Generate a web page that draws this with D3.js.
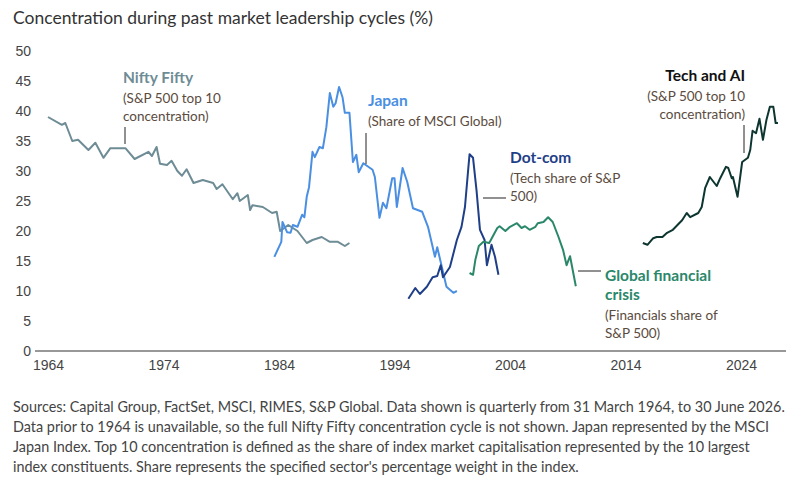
<!DOCTYPE html>
<html>
<head>
<meta charset="utf-8">
<script src="https://cdn.jsdelivr.net/npm/d3@7"></script>
<style>
  body { margin: 0; background: #fff; font-family: Lato, "Open Sans", sans-serif; }
  .tick text { font-size: 14px; fill: #444; }
  .note { font-size: 14.4px; fill: #444; }
</style>
</head>
<body>
<svg id="chart" width="793" height="491"></svg>
<script>
// [year, % concentration]
var niftyFifty = [[1964.0,39],[1965.2,37.7],[1965.5,38],[1966.1,35],[1966.6,35.2],[1967.5,33.5],[1968.1,34.7],[1968.8,32.2],[1969.4,33.8],[1970.7,33.8],[1971.5,32],[1972.7,33.2],[1973.0,32.5],[1973.4,34],[1973.7,31.2],[1974.3,31],[1974.7,31.7],[1975.2,30],[1975.6,29.2],[1976.0,30.3],[1976.6,28],[1977.4,28.5],[1978.3,28],[1978.6,27],[1979.1,27.8],[1980.0,25.3],[1980.4,26.3],[1980.6,25],[1981.3,26],[1981.5,23.5],[1981.7,24.3],[1982.6,24],[1983.4,23],[1983.8,23.2],[1984.1,20],[1984.8,21],[1985.6,20],[1986.4,18],[1986.9,18.5],[1987.7,19],[1988.4,18.2],[1989.1,18.2],[1989.7,17.5],[1990.1,18]];
var japan = [[1983.6,15.7],[1984.2,18.2],[1984.3,21.5],[1984.7,19.8],[1985.0,19.7],[1985.2,21],[1985.6,20.7],[1986.0,22.7],[1986.2,22.3],[1986.4,25.7],[1986.6,27.3],[1986.9,33.2],[1987.1,32.3],[1987.5,34],[1987.8,33.8],[1988.1,37.3],[1988.4,43],[1988.7,40.7],[1988.9,41.3],[1989.2,44],[1989.5,42.3],[1989.7,39.7],[1990.1,39.7],[1990.4,31.5],[1990.7,32.7],[1990.9,29.8],[1991.3,31.3],[1992.1,30.2],[1992.3,29],[1992.7,22.2],[1993.0,24.7],[1993.3,23.8],[1993.8,28.8],[1994.0,28.8],[1994.2,24],[1994.7,30.5],[1995.1,28.2],[1995.6,23.8],[1996.4,23.2],[1996.9,20.7],[1997.5,15.7],[1997.7,17.3],[1998.1,14],[1998.5,10.7],[1999.1,9.7],[1999.4,10]];
var dotCom = [[1995.2,8.7],[1995.8,10.5],[1996.2,9.5],[1996.8,10.7],[1997.3,12.3],[1997.7,12.5],[1998.0,14.3],[1998.2,12.3],[1998.8,14],[1999.4,18.5],[1999.8,20.7],[2000.1,24],[2000.4,30.7],[2000.5,32.8],[2000.8,32.2],[2001.1,26.8],[2001.4,20.2],[2001.8,18.5],[2002.0,14.3],[2002.4,17.7],[2002.7,15.7],[2003.0,12.7]];
var gfc = [[2000.5,13],[2000.8,12.7],[2001.0,15.2],[2001.3,17.5],[2001.7,18.2],[2002.2,18],[2002.9,20.5],[2003.1,20.8],[2003.6,20],[2004.0,20.7],[2004.6,21.3],[2005.0,20.5],[2005.3,20.8],[2005.7,20.2],[2006.2,20.7],[2006.4,21.3],[2006.9,21.5],[2007.3,22.3],[2007.7,21.5],[2008.2,19],[2008.6,16.8],[2008.9,14.3],[2009.2,15.8],[2009.7,10.8]];
var techAI = [[2015.5,18],[2015.9,17.7],[2016.4,18.8],[2016.7,19],[2017.2,19],[2017.6,19.7],[2018.1,20.2],[2018.9,21.8],[2019.3,23],[2019.6,22.3],[2020.3,23],[2020.6,24],[2020.9,27.2],[2021.3,29],[2021.9,27.5],[2022.2,28.8],[2022.7,30.7],[2022.9,30.5],[2023.2,28.8],[2023.3,29],[2023.7,25.7],[2024.1,31.5],[2024.6,32.2],[2024.8,33.5],[2025.0,36.7],[2025.3,36.3],[2025.6,38.7],[2025.9,35.2],[2026.2,38.5],[2026.5,40.7],[2026.8,40.7],[2027.0,38],[2027.2,38]];

var xTicks = [1964, 1974, 1984, 1994, 2004, 2014, 2024];
var yTicks = [0, 5, 10, 15, 20, 25, 30, 35, 40, 45, 50];

var svg = d3.select("#chart");
var x = d3.scaleLinear().domain([1964, 2024]).range([48, 741]);
var y = d3.scaleLinear().domain([0, 50]).range([351, 51]);

svg.append("text").attr("x", 13).attr("y", 24)
  .style("font-size", "17.5px").style("fill", "#333")
  .text("Concentration during past market leadership cycles (%)");

// y axis labels (no line)
var ya = svg.append("g").attr("transform", "translate(31,0)")
  .call(d3.axisLeft(y).tickValues(yTicks).tickSize(0).tickPadding(0));
ya.select(".domain").remove();
ya.selectAll("text").attr("text-anchor", "end");

var xa = svg.append("g").attr("transform", "translate(0,351)")
  .call(d3.axisBottom(x).tickValues(xTicks).tickFormat(d3.format("d")).tickSize(0).tickPadding(9));
xa.select(".domain").remove();
svg.append("line").attr("x1", 35).attr("x2", 786).attr("y1", 351).attr("y2", 351)
  .attr("stroke", "#333").attr("stroke-width", 1.2);

var line = d3.line().x(function(d) { return x(d[0]); }).y(function(d) { return y(d[1]); });

var series = [
  { data: niftyFifty, color: "#6e8c95" },
  { data: japan, color: "#4a8fe2" },
  { data: dotCom, color: "#1f3f88" },
  { data: gfc, color: "#2a876a" },
  { data: techAI, color: "#0e3630" }
];
series.forEach(function(s) {
  svg.append("path").datum(s.data).attr("d", line)
    .attr("fill", "none").attr("stroke", s.color).attr("stroke-width", 2)
    .attr("stroke-linejoin", "round");
});

// annotations
function label(x0, y0, anchor, title, color, lines) {
  var g = svg.append("g");
  title.forEach(function(t, i) {
    g.append("text").attr("x", x0).attr("y", y0 + i * 19).attr("text-anchor", anchor)
      .style("font-size", "15.5px").style("font-weight", "bold").style("fill", color).text(t);
  });
  lines.forEach(function(t, i) {
    g.append("text").attr("x", x0).attr("y", y0 + title.length * 19 + i * 18 + 1).attr("text-anchor", anchor)
      .style("font-size", "13.5px").style("fill", "#5b4b40").text(t);
  });
}
function leader(x1, y1, x2, y2) {
  svg.append("line").attr("x1", x1).attr("y1", y1).attr("x2", x2).attr("y2", y2)
    .attr("stroke", "#222").attr("stroke-width", 1);
}
label(123, 83, "start", ["Nifty Fifty"], "#6e8c95", ["(S&P 500 top 10", "concentration)"]);
leader(125, 127, 125, 144);
label(368, 106, "start", ["Japan"], "#4a8fe2", ["(Share of MSCI Global)"]);
leader(366, 133, 366, 164);
label(510, 163, "start", ["Dot-com"], "#1f3f88", ["(Tech share of S&P", "500)"]);
leader(483, 198, 506, 198);
label(605, 281, "start", ["Global financial", "crisis"], "#2a876a", ["(Financials share of", "S&P 500)"]);
leader(578, 271, 601, 271);
label(745, 81, "end", ["Tech and AI"], "#111", ["(S&P 500 top 10", "concentration)"]);
leader(744, 125, 744, 153);

var notes = [
  "Sources: Capital Group, FactSet, MSCI, RIMES, S&P Global. Data shown is quarterly from 31 March 1964, to 30 June 2026.",
  "Data prior to 1964 is unavailable, so the full Nifty Fifty concentration cycle is not shown. Japan represented by the MSCI",
  "Japan Index. Top 10 concentration is defined as the share of index market capitalisation represented by the 10 largest",
  "index constituents. Share represents the specified sector's percentage weight in the index."
];
svg.selectAll(".note").data(notes).enter().append("text").attr("class", "note")
  .attr("x", 13).attr("y", function(d, i) { return 412 + i * 20; }).text(function(d) { return d; });
</script>
</body>
</html>
